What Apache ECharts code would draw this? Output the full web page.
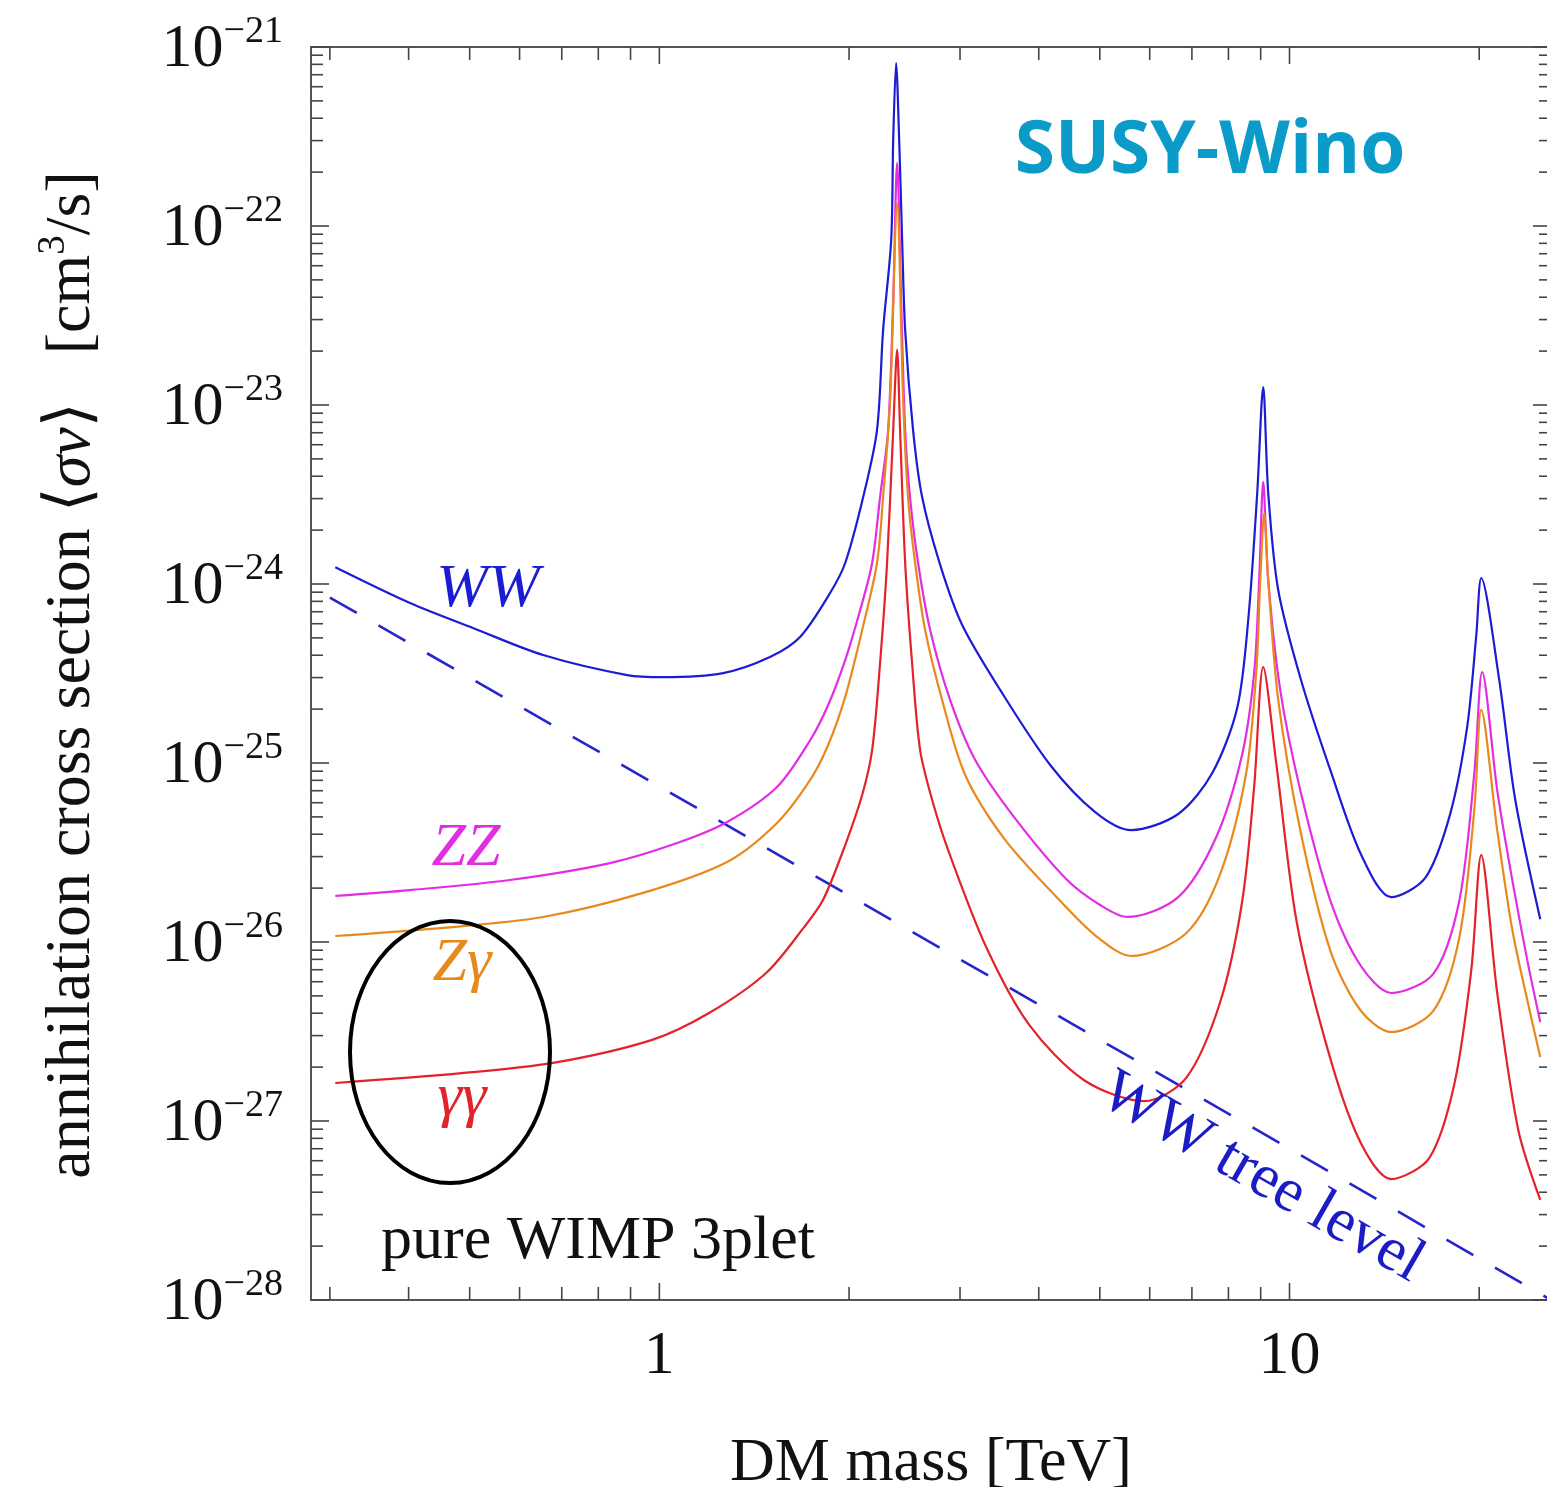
<!DOCTYPE html>
<html><head><meta charset="utf-8">
<script src="https://cdn.jsdelivr.net/npm/echarts@6/dist/echarts.min.js"></script>
<style>html,body{margin:0;padding:0;overflow:hidden;background:#fff}#c{width:1551px;height:1487px}</style>
</head><body><div id="c"></div>
<script>
// ---- data (DM mass in TeV, <sigma v> in cm^3/s) ----
const massWW = [0.306,0.402,0.506,0.654,0.889,1.014,1.262,1.498,1.672,1.866,1.972,2.106,2.215,2.265,2.333,2.350,2.375,2.402,2.428,2.455,2.527,2.612,2.790,3.024,3.474,4.171,4.916,5.607,6.659,7.541,8.260,8.600,8.887,9.084,9.252,9.596,10.44,11.65,13.00,14.50,16.42,17.99,19.14,19.79,20.15,21.52,22.82,25.0];
const sigmaWW = [1.24e-24,7.83e-25,5.68e-25,4.01e-25,3.10e-25,3.02e-25,3.18e-25,3.91e-25,5.06e-25,8.91e-25,1.31e-24,3.06e-24,7.24e-24,2.62e-23,8.36e-23,3.02e-22,8.14e-22,3.02e-22,8.36e-23,2.62e-23,7.24e-24,3.06e-24,1.28e-24,5.90e-25,2.56e-25,9.75e-26,5.32e-26,4.22e-26,5.19e-26,8.80e-26,2.03e-25,6.30e-25,3.22e-24,1.26e-23,3.22e-24,9.25e-25,2.87e-25,8.80e-26,3.06e-26,1.78e-26,2.28e-26,5.2e-26,1.59e-25,5.19e-25,1.08e-24,2.91e-25,6.21e-26,1.34e-26];

const massZZ = [0.306,0.402,0.579,0.835,1.067,1.281,1.537,1.735,1.853,1.972,2.083,2.176,2.240,2.307,2.350,2.384,2.419,2.455,2.499,2.574,2.690,2.893,3.171,3.684,4.438,5.005,5.526,6.659,7.652,8.413,8.790,8.951,9.084,9.252,9.666,10.40,11.60,12.95,14.50,16.91,18.59,19.65,20.22,21.36,22.57,23.84,25.0];
const sigmaZZ = [1.81e-26,1.95e-26,2.22e-26,2.76e-26,3.57e-26,4.68e-26,7.34e-26,1.34e-25,2.11e-25,3.76e-25,7.16e-25,1.31e-24,3.06e-24,7.24e-24,3.86e-23,2.25e-22,3.86e-23,7.24e-24,3.06e-24,1.31e-24,5.53e-25,2.25e-25,1.04e-25,4.81e-26,2.22e-26,1.61e-26,1.38e-26,1.78e-26,3.86e-26,1.12e-25,3.22e-25,1.05e-24,3.72e-24,1.05e-24,2.56e-25,7.06e-26,1.72e-26,7.44e-27,5.19e-27,6.63e-27,1.69e-26,8.80e-26,3.22e-25,7.06e-26,2.22e-26,7.92e-27,3.57e-27];

const massZg = [0.306,0.454,0.654,0.942,1.281,1.537,1.735,1.853,1.972,2.098,2.215,2.265,2.324,2.384,2.437,2.481,2.546,2.641,2.810,3.057,3.538,4.310,4.916,5.607,6.855,7.763,8.537,8.855,8.987,9.117,9.252,9.596,10.40,11.60,12.95,14.50,16.91,18.59,19.65,20.15,21.36,22.57,23.84,25.0];
const sigmaZg = [1.08e-26,1.20e-26,1.38e-26,1.88e-26,2.80e-26,4.62e-26,8.04e-26,1.26e-25,2.34e-25,5.53e-25,1.31e-24,3.06e-24,1.07e-23,1.34e-22,1.07e-23,3.06e-24,1.31e-24,5.53e-25,2.25e-25,8.57e-26,3.72e-26,1.72e-26,1.09e-26,8.35e-27,1.12e-26,2.40e-26,8.80e-26,3.22e-25,1.05e-24,2.49e-24,1.05e-24,2.25e-25,4.22e-26,9.01e-27,4.17e-27,3.14e-27,4.12e-27,1.05e-26,5.53e-26,1.98e-25,4.22e-26,1.17e-26,4.74e-27,2.28e-27];

const massGG = [0.306,0.486,0.678,0.974,1.199,1.477,1.697,1.819,1.972,2.098,2.176,2.240,2.298,2.350,2.384,2.410,2.455,2.518,2.593,2.710,2.872,3.301,3.863,4.721,5.880,6.855,7.763,8.413,8.790,9.084,9.526,10.28,11.65,13.00,14.50,16.66,18.25,19.43,20.15,21.36,23.07,25.0];
const sigmaGG = [1.63e-27,1.85e-27,2.11e-27,2.84e-27,4.01e-27,6.71e-27,1.21e-26,1.72e-26,3.48e-26,6.62e-26,1.18e-25,3.62e-25,1.31e-24,7.24e-24,2.03e-23,7.24e-24,1.31e-24,3.62e-25,1.18e-25,6.21e-26,3.27e-26,9.37e-27,3.44e-27,1.69e-27,1.29e-27,1.74e-27,4.62e-27,1.69e-26,7.44e-26,3.43e-25,1.00e-25,1.26e-26,2.14e-27,7.44e-28,4.74e-28,6.21e-28,1.59e-27,6.98e-27,3.06e-26,5.19e-27,8.91e-28,3.62e-28];

const massTree = [0.3,1,3,10,26];
const sigmaTree = [8.4e-25,7.4e-26,8.0e-27,7.0e-28,1.0e-28];

// axis ranges and ticks
const xMin = 0.28, xMax = 26;
const yMinExp = -28, yMaxExp = -21;
const xLabelValues = [1, 10];
const xMajorTicks = [1, 10];
const xMinorTicks = [0.3,0.4,0.5,0.6,0.7,0.8,0.9,2,3,4,5,6,7,8,9,20];
const yExponents = [-28,-27,-26,-25,-24,-23,-22,-21];
const yMinorFactors = [2,3,4,5,6,7,8,9];

// ECharts rounds below 1e-20, so the y axis works in units of 1e-28 cm^3/s
const Y_UNIT_EXP = -28;
const toAxis = s => s * Math.pow(10, -Y_UNIT_EXP);
const yMin = Math.pow(10, yMinExp - Y_UNIT_EXP), yMax = Math.pow(10, yMaxExp - Y_UNIT_EXP);

const SERIF = '"Liberation Serif","DejaVu Serif",serif';
const C_WW = '#1c1cd4', C_ZZ = '#e22de2', C_ZG = '#e8891e', C_GG = '#e3222a';

const xTickData = xMajorTicks.map(v => [v, yMin, 1]).concat(xMinorTicks.map(v => [v, yMin, 0]));
const yTickData = [];
yExponents.forEach(e => {
  const base = Math.pow(10, e - Y_UNIT_EXP);
  yTickData.push([xMin, base, 1]);
  if (e < yMaxExp) yMinorFactors.forEach(k => yTickData.push([xMin, k * base, 0]));
});

function pairs(m, s) { return m.map((v, i) => [v, toAxis(s[i])]); }
function lineSeries(name, m, s, color, extra) {
  return Object.assign({
    name, type: 'line', data: pairs(m, s), showSymbol: false, symbol: 'none',
    smooth: 0.3,
    lineStyle: { color, width: 2.2 }, itemStyle: { color }, animation: false, z: 3
  }, extra || {});
}

const chart = echarts.init(document.getElementById('c'), null, { renderer: 'canvas' });
chart.setOption({
  animation: false,
  backgroundColor: '#fff',
  grid: { left: 311, top: 47, right: 0, bottom: 187, outerBoundsMode: 'none', containLabel: false,
          show: true, borderColor: '#555', borderWidth: 2, backgroundColor: 'transparent' },
  xAxis: {
    type: 'log', logBase: 10, min: xMin, max: xMax,
    axisLine: { show: false }, axisTick: { show: false }, splitLine: { show: false },
    axisLabel: {
      margin: 26, fontFamily: SERIF, fontSize: 62, color: '#111',
      formatter: v => { const r = Math.round(v); return (Math.abs(v - r) < 1e-6 && xLabelValues.includes(r)) ? String(r) : ''; }
    },
    name: 'DM mass [TeV]', nameLocation: 'middle', nameGap: 133,
    nameTextStyle: { fontFamily: SERIF, fontSize: 62, color: '#111' }
  },
  yAxis: {
    type: 'log', logBase: 10, min: yMin, max: yMax, splitNumber: 7,
    axisLine: { show: false }, axisTick: { show: false }, splitLine: { show: false },
    axisLabel: {
      margin: 28, color: '#111',
      formatter: v => {
        const e = Math.log10(v), r = Math.round(e);
        if (Math.abs(e - r) > 1e-6) return '';
        const ex = r + Y_UNIT_EXP;
        return '{b|10}{s|' + (ex < 0 ? '\u2212' : '') + Math.abs(ex) + '}';
      },
      rich: {
        b: { fontFamily: SERIF, fontSize: 62, lineHeight: 68, verticalAlign: 'bottom', color: '#111' },
        s: { fontFamily: SERIF, fontSize: 38, lineHeight: 38, verticalAlign: 'top', color: '#111' }
      }
    }
  },
  series: [
    lineSeries('WW tree level', massTree, sigmaTree, '#2626cc', { smooth: false, lineStyle: { color: '#2626cc', width: 2.6, type: [31, 25] }, z: 2 }),
    lineSeries('WW', massWW, sigmaWW, C_WW),
    lineSeries('ZZ', massZZ, sigmaZZ, C_ZZ),
    lineSeries('Zγ', massZg, sigmaZg, C_ZG),
    lineSeries('γγ', massGG, sigmaGG, C_GG),
    {
      type: 'custom', name: 'xticks', data: xTickData, encode: { x: 0, y: 1 }, z: 5, silent: true,
      renderItem: (params, api) => {
        const v = api.value(0), major = api.value(2);
        const pb = api.coord([v, yMin]), pt = api.coord([v, yMax]);
        const len = major ? 17 : 13;
        const st = { stroke: '#444', lineWidth: 1.6 };
        return { type: 'group', children: [
          { type: 'line', shape: { x1: pb[0], y1: pb[1], x2: pb[0], y2: pb[1] - len }, style: st },
          { type: 'line', shape: { x1: pt[0], y1: pt[1], x2: pt[0], y2: pt[1] + len }, style: st }
        ] };
      }
    },
    {
      type: 'custom', name: 'yticks', data: yTickData, encode: { x: 0, y: 1 }, z: 5, silent: true,
      renderItem: (params, api) => {
        const v = api.value(1), major = api.value(2);
        const pl = api.coord([xMin, v]), pr = api.coord([xMax, v]);
        const len = major ? 18 : 12;
        const st = { stroke: '#444', lineWidth: 1.6 };
        return { type: 'group', children: [
          { type: 'line', shape: { x1: pl[0], y1: pl[1], x2: pl[0] + len, y2: pl[1] }, style: st },
          { type: 'line', shape: { x1: pr[0], y1: pr[1], x2: pr[0] - len, y2: pr[1] }, style: st }
        ] };
      }
    }
  ],
  graphic: [
    { type: 'text', x: 69, y: 675, rotation: Math.PI / 2, z: 10,
      style: {
        text: '{n|annihilation cross section \u27E8}{i|\u03C3v}{n|\u27E9   [cm}{p|3}{n|/s]}',
        align: 'center', verticalAlign: 'middle', fill: '#111',
        rich: {
          n: { fontFamily: SERIF, fontSize: 64, lineHeight: 70, verticalAlign: 'bottom', fill: '#111' },
          i: { fontFamily: SERIF, fontStyle: 'italic', fontSize: 64, lineHeight: 70, verticalAlign: 'bottom', fill: '#111' },
          p: { fontFamily: SERIF, fontSize: 39, lineHeight: 39, verticalAlign: 'top', fill: '#111' }
        }
      } },
    { type: 'text', x: 1210, y: 152, z: 10,
      style: { text: 'SUSY-Wino', font: 'bold 73px "Open Sans"', fill: '#0b9bc9', align: 'center', verticalAlign: 'middle' } },
    { type: 'text', x: 488, y: 590, z: 10,
      style: { text: 'WW', font: 'italic 62px ' + SERIF, fill: C_WW, align: 'center', verticalAlign: 'middle' } },
    { type: 'text', x: 466, y: 849, z: 10,
      style: { text: 'ZZ', font: 'italic 62px ' + SERIF, fill: C_ZZ, align: 'center', verticalAlign: 'middle' } },
    { type: 'text', x: 462, y: 964, z: 10,
      style: { text: 'Z\u03B3', font: 'italic 62px ' + SERIF, fill: C_ZG, align: 'center', verticalAlign: 'middle' } },
    { type: 'text', x: 462, y: 1099, z: 10,
      style: { text: '\u03B3\u03B3', font: 'italic 62px ' + SERIF, fill: C_GG, align: 'center', verticalAlign: 'middle' } },
    { type: 'text', x: 598, y: 1242, z: 10,
      style: { text: 'pure WIMP 3plet', font: '62px ' + SERIF, fill: '#111', align: 'center', verticalAlign: 'middle' } },
    { type: 'text', x: 1262, y: 1178, rotation: -0.522, z: 10,
      style: { text: 'WW tree level', font: '62px ' + SERIF, fill: '#1c1cc4', align: 'center', verticalAlign: 'middle' } },
    { type: 'ellipse', z: 10, shape: { cx: 450, cy: 1052, rx: 100, ry: 131 },
      style: { fill: 'none', stroke: '#000', lineWidth: 4 } }
  ]
});
</script>
</body></html>
